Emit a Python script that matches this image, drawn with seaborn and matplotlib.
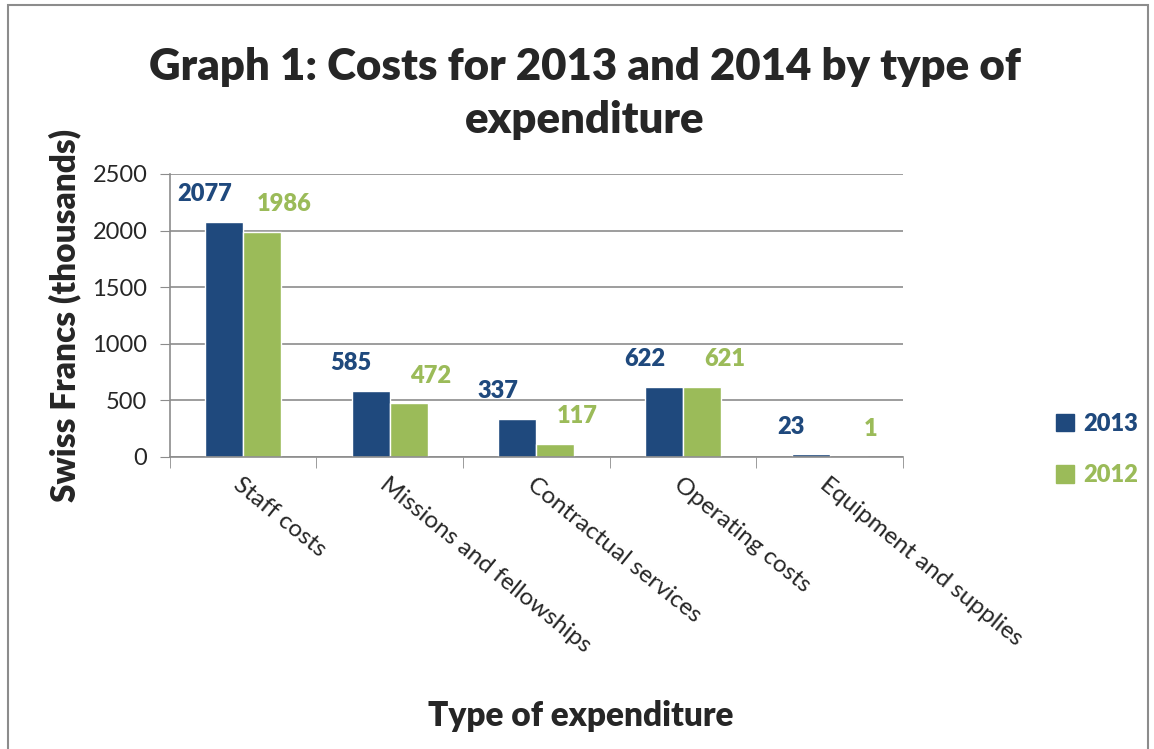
import numpy as np
import pandas as pd
import seaborn as sns
import matplotlib.pyplot as plt
from matplotlib.patches import Rectangle

# Data
categories = ['Staff costs', 'Missions and fellowships', 'Contractual services',
              'Operating costs', 'Equipment and supplies']
values_2013 = [2077, 585, 337, 622, 23]
values_2012 = [1986, 472, 117, 621, 1]
series = ['2013', '2012']
colors = ['#1F497D', '#9BBB59']

df = pd.DataFrame({
    'category': categories * 2,
    'value': values_2013 + values_2012,
    'year': [series[0]] * len(categories) + [series[1]] * len(categories),
})

sns.set_style('white')
plt.rcParams['font.family'] = ['Lato', 'DejaVu Sans']

fig = plt.figure(figsize=(11.54, 7.49), dpi=100)
ax = fig.add_axes([0.147, 0.39, 0.6355, 0.3777])

sns.barplot(data=df, x='category', y='value', hue='year', palette=colors,
            width=0.52, ax=ax, saturation=1, legend=False)

# data labels, nudged sideways like the original
for cont, c, dx in zip(ax.containers, colors, [-14, 16]):
    for bar in cont:
        h = bar.get_height()
        ax.annotate(f'{h:.0f}', (bar.get_x() + bar.get_width() / 2, h),
                    xytext=(dx, 20), textcoords='offset points',
                    ha='center', va='center', color=c, fontsize=17, fontweight='heavy')

ax.set_ylim(0, 2500)
ax.set_xlim(-0.5, len(categories) - 0.5)
ax.set_yticks(np.arange(0, 2501, 500))
ax.yaxis.grid(True, color='#8C8C8C', linewidth=1.2)
ax.set_axisbelow(True)
for s in ['top', 'right']:
    ax.spines[s].set_visible(False)
for s in ['left', 'bottom']:
    ax.spines[s].set_color('#8C8C8C')
    ax.spines[s].set_linewidth(1.2)

ax.tick_params(axis='y', which='major', length=7, color='#8C8C8C', labelsize=17, pad=9, left=True)
ax.set_xticks(np.arange(-0.5, len(categories)), minor=True)
ax.tick_params(axis='x', which='minor', length=8, color='#8C8C8C', bottom=True)
ax.tick_params(axis='x', which='major', length=0, labelsize=17.5, pad=12)
ax.set_xticks(range(len(categories)))
ax.set_xticklabels(categories, rotation=-39, ha='left', rotation_mode='anchor')

ax.set_xlabel('Type of expenditure', fontsize=24, fontweight='heavy')
ax.set_ylabel('Swiss Francs (thousands)', fontsize=24, fontweight='heavy', labelpad=8)
ax.xaxis.set_label_coords(0.56, -0.86)

fig.text(0.507, 0.875, 'Graph 1: Costs for 2013 and 2014 by type of\nexpenditure',
         fontsize=31.5, fontweight='heavy', ha='center', va='center', linespacing=1.4)

# legend
handles = [Rectangle((0, 0), 1, 1, color=c) for c in colors]
leg = fig.legend(handles, series, loc='center left', bbox_to_anchor=(0.897, 0.4),
                 frameon=False, handlelength=0.75, handleheight=0.75, labelspacing=1.25,
                 prop={'size': 17, 'weight': 'heavy'}, handletextpad=0.4)
for t, c in zip(leg.get_texts(), colors):
    t.set_color(c)

# chart frame
fig.patches.append(Rectangle((0.007, -0.01), 0.988, 1.003, transform=fig.transFigure,
                             fill=False, edgecolor='#8C8C8C', linewidth=1.5))

fig.savefig('out.png', dpi=100)
